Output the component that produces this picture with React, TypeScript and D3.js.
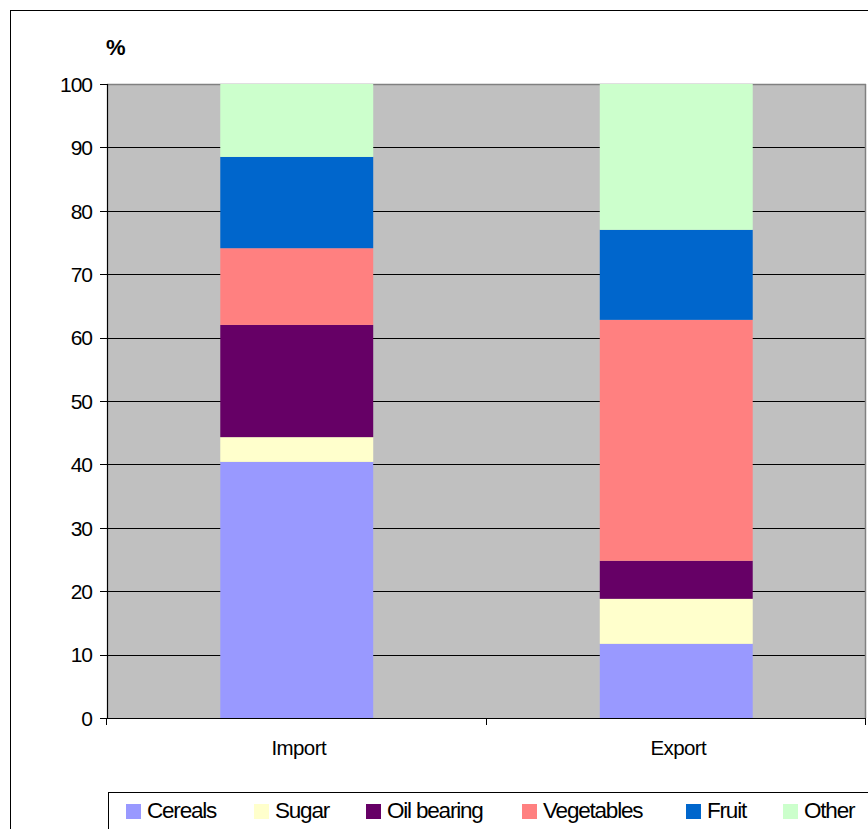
import React from "react";
import * as d3 from "d3";

// Share of each product group in agricultural trade, %
const categories = ["Import", "Export"];
const seriesNames = ["Cereals", "Sugar", "Oil bearing", "Vegetables", "Fruit", "Other"];
const cereals = [40.4, 11.7];
const sugar = [3.9, 7.1];
const oilBearing = [17.7, 6.0];
const vegetables = [12.1, 38.0];
const fruit = [14.4, 14.2];
const other = [11.5, 23.0];
const yTicks = [0, 10, 20, 30, 40, 50, 60, 70, 80, 90, 100];
const colors = ["#9999FF", "#FFFFCC", "#660066", "#FF8080", "#0066CC", "#CCFFCC"];

const seriesValues = [cereals, sugar, oilBearing, vegetables, fruit, other];

const W = 868;
const H = 829;
const plot = { left: 107, right: 866, top: 84, bottom: 718 };
const FONT = "'Liberation Sans', Arial, sans-serif";

export default function App() {
  const rows = categories.map((c, i) => {
    const r: Record<string, any> = { category: c };
    seriesNames.forEach((s, k) => (r[s] = seriesValues[k][i]));
    return r;
  });
  const stacked = d3.stack<any>().keys(seriesNames)(rows);

  const x = d3
    .scaleBand<string>()
    .domain(categories)
    .range([plot.left, plot.right])
    .paddingInner(0.597)
    .paddingOuter(0.2985);
  const y = d3.scaleLinear().domain([0, 100]).range([plot.bottom, plot.top]);

  const step = (plot.right - plot.left) / categories.length;
  const boundaries = d3.range(categories.length + 1).map((i) => plot.left + i * step);

  const legendX = [126, 254, 366, 522, 686, 783];

  return (
    <svg
      width={W}
      height={H}
      style={{ position: "absolute", left: 0, top: 0, display: "block", background: "#fff" }}
      fontFamily={FONT}
    >
      {/* chart frame */}
      <rect x={10.5} y={10.5} width={W + 20} height={H + 20} fill="#fff" stroke="#000" strokeWidth={1} />

      {/* plot background */}
      <rect
        x={plot.left}
        y={plot.top}
        width={plot.right - plot.left}
        height={plot.bottom - plot.top}
        fill="#C0C0C0"
      />

      {/* gridlines */}
      {yTicks.filter((t) => t > 0 && t < 100).map((t) => (
        <line
          key={t}
          x1={plot.left}
          x2={plot.right}
          y1={Math.round(y(t)) + 0.5}
          y2={Math.round(y(t)) + 0.5}
          stroke="#000"
          strokeWidth={1}
        />
      ))}

      {/* plot border (top, right) */}
      <line x1={plot.left} x2={plot.right} y1={plot.top + 0.5} y2={plot.top + 0.5} stroke="#808080" strokeWidth={1.5} />
      <line x1={plot.right - 0.5} x2={plot.right - 0.5} y1={plot.top} y2={plot.bottom} stroke="#808080" strokeWidth={1.5} />

      {/* stacked bars */}
      {stacked.map((layer, k) => (
        <g key={layer.key} fill={colors[k]}>
          {layer.map((d, i) => (
            <rect
              key={i}
              x={x(categories[i])!}
              width={x.bandwidth()}
              y={y(d[1])}
              height={y(d[0]) - y(d[1])}
            />
          ))}
        </g>
      ))}

      {/* y axis */}
      <line x1={plot.left + 0.5} x2={plot.left + 0.5} y1={plot.top} y2={plot.bottom + 1} stroke="#000" strokeWidth={1.2} />
      {yTicks.map((t) => (
        <g key={t}>
          <line
            x1={plot.left - 7}
            x2={plot.left}
            y1={Math.round(y(t)) + 0.5}
            y2={Math.round(y(t)) + 0.5}
            stroke="#000"
          />
          <text
            x={92}
            y={y(t)}
            dy="0.37em"
            textAnchor="end"
            fontSize={21}
            fill="#000"
            letterSpacing={-1}
          >
            {t}
          </text>
        </g>
      ))}
      <text x={106} y={55} fontSize={22} fontWeight="bold" fill="#000">
        %
      </text>

      {/* x axis */}
      <line x1={plot.left} x2={plot.right} y1={plot.bottom + 0.5} y2={plot.bottom + 0.5} stroke="#000" strokeWidth={1.2} />
      {boundaries.map((b, i) => (
        <line
          key={i}
          x1={Math.round(b) - 0.5}
          x2={Math.round(b) - 0.5}
          y1={plot.bottom}
          y2={plot.bottom + 7}
          stroke="#000"
        />
      ))}
      {categories.map((c) => (
        <text
          key={c}
          x={x(c)! + x.bandwidth() / 2 + 2}
          y={755}
          textAnchor="middle"
          fontSize={20.5}
          fill="#000"
          letterSpacing={-0.6}
        >
          {c}
        </text>
      ))}

      {/* legend */}
      <rect x={108.5} y={792.5} width={W} height={60} fill="#fff" stroke="#000" strokeWidth={1} />
      {seriesNames.map((s, k) => (
        <g key={s}>
          <rect x={legendX[k]} y={804} width={15} height={15} fill={colors[k]} />
          <text
            x={legendX[k] + 21}
            y={817.5}
            fontSize={22.5}
            fill="#000"
            letterSpacing={-1.2}
          >
            {s}
          </text>
        </g>
      ))}
    </svg>
  );
}
